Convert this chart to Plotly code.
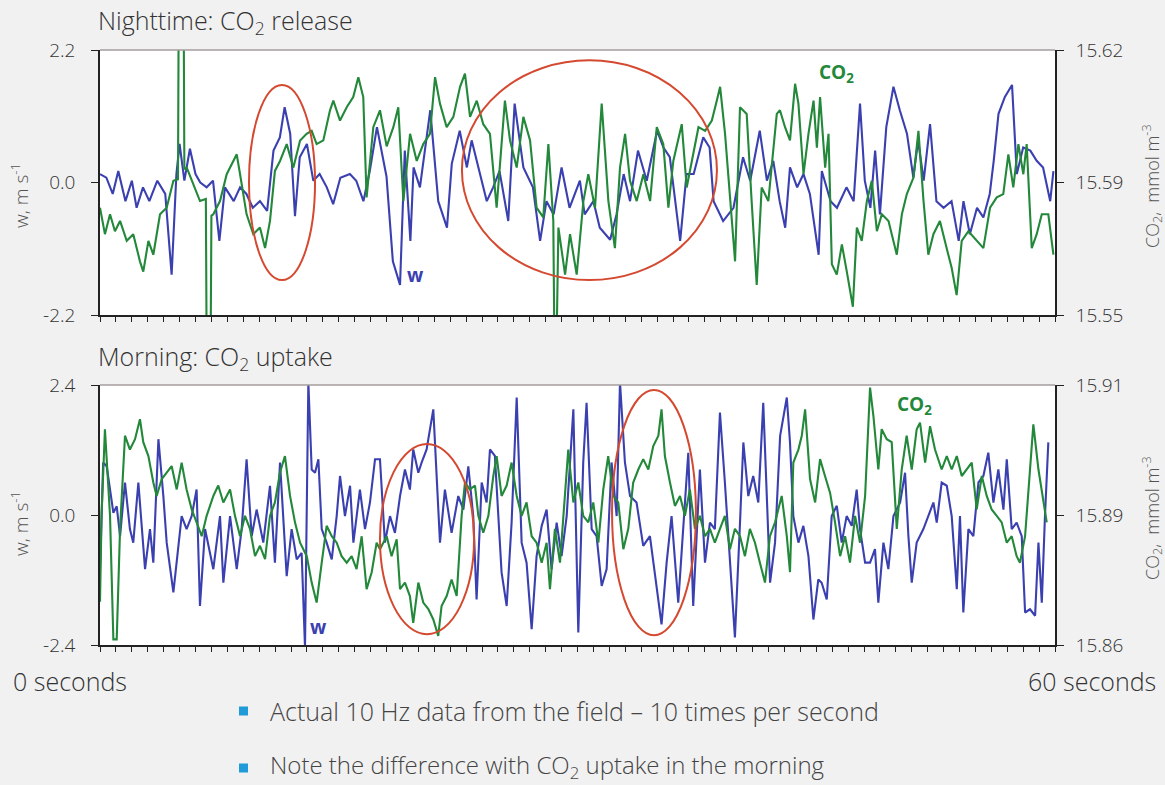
import plotly.graph_objects as go

# ---------------- data ----------------
# Nighttime: vertical wind speed w (m/s), (time s, value)
night_w = [(0.0,0.14),(0.4,0.08),(0.8,-0.19),(1.15,0.19),(1.6,-0.31),(2.0,0.03),(2.3,-0.42),(2.7,-0.08),(3.1,-0.31),(3.6,0.03),(4.1,-0.19),(4.5,-1.53),(4.8,0.14),(5.0,0.64),(5.3,0.03),(5.65,0.56),(6.0,0.14),(6.3,0.0),(6.7,-0.08),(7.1,0.03),(7.5,-0.97),(7.85,-0.08),(8.4,-0.31),(8.8,-0.08),(9.2,-0.19),(9.6,-0.42),(10.05,-0.31),(10.5,-0.47),(10.9,0.53),(11.3,0.75),(11.6,1.25),(11.95,0.81),(12.25,-0.56),(12.55,0.42),(13.0,0.64),(13.4,0.03),(13.8,0.14),(14.25,-0.08),(14.65,-0.36),(15.1,0.08),(15.7,0.14),(16.1,0.03),(16.55,-0.31),(16.95,0.19),(17.4,0.92),(18.0,0.1),(18.4,-1.31),(18.85,-1.7),(19.15,0.53),(19.5,-0.97),(19.7,0.25),(20.1,-0.08),(20.75,1.2),(21.25,-0.31),(21.8,-0.75),(22.1,0.31),(22.6,0.86),(23.05,0.25),(23.35,0.70),(23.9,0.14),(24.3,-0.31),(24.7,-0.08),(25.1,0.19),(25.65,-0.64),(26.05,1.31),(26.6,0.25),(27.2,-0.08),(27.65,-0.97),(28.05,-0.31),(28.5,-0.53),(29.0,0.25),(29.5,-0.42),(30.15,0.03),(30.45,-0.53),(31.0,-0.31),(31.4,-0.75),(32.05,-0.95),(32.45,-0.53),(32.9,0.14),(33.3,-0.31),(33.8,0.53),(34.35,0.03),(35.0,0.86),(35.4,0.58),(35.8,0.42),(36.45,-0.97),(36.85,0.14),(37.3,0.14),(37.9,0.75),(38.3,0.58),(38.55,-0.31),(39.15,-0.64),(39.8,-0.42),(40.4,0.42),(40.85,0.03),(41.45,0.86),(41.9,0.03),(42.3,0.36),(42.7,-0.31),(43.05,-0.75),(43.35,0.25),(43.8,-0.08),(44.2,0.14),(44.6,-0.19),(45.15,-1.2),(45.35,0.19),(45.9,-0.31),(46.3,-0.42),(46.9,-0.08),(47.35,-0.31),(47.75,1.31),(48.05,0.03),(48.4,-0.42),(48.7,0.53),(49.0,-0.53),(49.4,0.92),(49.85,1.59),(50.25,1.2),(50.7,0.81),(51.1,0.08),(51.4,0.70),(51.75,0.03),(52.15,0.97),(52.55,-0.31),(53.0,-0.42),(53.5,-0.31),(53.95,-0.97),(54.25,-0.31),(54.65,-0.86),(55.1,-0.42),(55.5,-0.58),(55.9,-0.19),(56.15,0.36),(56.45,1.14),(56.85,1.42),(57.3,1.62),(57.6,0.14),(58.0,0.58),(58.45,0.53),(58.85,0.36),(59.25,0.25),(59.7,-0.31),(59.9,0.19)]

# Nighttime: CO2 concentration (mmol m-3), (time s, value)
night_co2 = [(0.0,15.5824),(0.31,15.5744),(0.63,15.5804),(0.94,15.5753),(1.26,15.5784),(1.68,15.5724),(2.09,15.5744),(2.51,15.5662),(2.72,15.5631),(3.04,15.5724),(3.35,15.5682),(3.77,15.5804),(4.19,15.5824),(4.61,15.5905),(4.9,15.591),(4.95,15.65),(5.25,15.65),(5.3,15.594),(5.45,15.5945),(5.86,15.5895),(6.28,15.5844),(6.65,15.585),(6.7,15.54),(6.95,15.54),(7.0,15.580),(7.12,15.5804),(7.54,15.5844),(7.96,15.5925),(8.38,15.5965),(8.59,15.5985),(8.80,15.5925),(9.21,15.5804),(9.63,15.5744),(10.05,15.5764),(10.37,15.5702),(10.68,15.5784),(10.99,15.5935),(11.31,15.5965),(11.73,15.6016),(12.15,15.5945),(12.57,15.6027),(12.98,15.6047),(13.30,15.6056),(13.61,15.6016),(14.03,15.6027),(14.45,15.6118),(14.66,15.6147),(15.08,15.6087),(15.5,15.6127),(15.91,15.6158),(16.23,15.6218),(16.54,15.6158),(16.75,15.5855),(17.17,15.6067),(17.59,15.6118),(18.01,15.6009),(18.43,15.6067),(18.74,15.6127),(19.06,15.5844),(19.48,15.6047),(19.90,15.5965),(20.31,15.6016),(20.73,15.6047),(21.05,15.6218),(21.36,15.6138),(21.78,15.6067),(22.20,15.6098),(22.62,15.6189),(22.93,15.6229),(23.25,15.6098),(23.67,15.6147),(24.08,15.6076),(24.50,15.6047),(24.92,15.5824),(25.44,15.6147),(25.76,15.6027),(26.18,15.5945),(26.60,15.6098),(27.02,15.6027),(27.43,15.5824),(27.85,15.5795),(28.17,15.6016),(28.48,15.5784),(28.55,15.54),(28.68,15.54),(28.80,15.5764),(29.22,15.5622),(29.53,15.5744),(29.95,15.5622),(30.37,15.5844),(30.68,15.5925),(31.10,15.5824),(31.52,15.6138),(31.94,15.5844),(32.35,15.5702),(32.67,15.5945),(32.99,15.6047),(33.30,15.5905),(33.72,15.5844),(34.14,15.5925),(34.56,15.5844),(34.98,15.6067),(35.39,15.6016),(35.71,15.5824),(36.02,15.5965),(36.55,15.6076),(36.86,15.5885),(37.28,15.5985),(37.60,15.6067),(38.02,15.6056),(38.44,15.6087),(38.75,15.6147),(38.96,15.6189),(39.27,15.6047),(39.58,15.5844),(39.90,15.5662),(40.21,15.6127),(40.63,15.6107),(40.94,15.5844),(41.26,15.5591),(41.57,15.5885),(41.99,15.5844),(42.52,15.6107),(42.72,15.6118),(43.04,15.6067),(43.35,15.6027),(43.67,15.6198),(43.88,15.6138),(44.20,15.5925),(44.51,15.6047),(44.83,15.6147),(45.04,15.6005),(45.24,15.6158),(45.56,15.5945),(45.77,15.6047),(45.98,15.5653),(46.29,15.5622),(46.61,15.5713),(46.92,15.5631),(47.30,15.5525),(47.55,15.5764),(47.86,15.5724),(48.18,15.5844),(48.49,15.5905),(48.81,15.5753),(49.12,15.5804),(49.54,15.5784),(50.06,15.5682),(50.38,15.5804),(50.69,15.5865),(51.11,15.5915),(51.42,15.6056),(51.74,15.5844),(52.04,15.5682),(52.36,15.5744),(52.77,15.5784),(53.19,15.5702),(53.51,15.5642),(53.82,15.5560),(54.14,15.5724),(54.56,15.5753),(55.08,15.5724),(55.50,15.5702),(55.92,15.5824),(56.34,15.5855),(56.75,15.5865),(57.07,15.5985),(57.38,15.5885),(57.70,15.6016),(58.01,15.5925),(58.22,15.6016),(58.54,15.5702),(58.85,15.5744),(59.17,15.5804),(59.58,15.5804),(59.90,15.5682)]

# Morning: vertical wind speed w (m/s)
morning_w = [(0.0,-1.0),(0.2,0.97),(0.42,0.90),(0.84,0.04),(1.05,0.16),(1.26,-0.39),(1.57,0.60),(1.88,-0.26),(2.09,-0.51),(2.41,0.60),(2.83,-1.00),(3.14,-0.26),(3.35,-0.88),(3.67,1.40),(3.98,0.35),(4.19,-0.51),(4.61,-1.43),(4.82,-0.88),(5.13,-0.02),(5.44,-0.26),(5.76,-0.02),(6.07,0.47),(6.28,-1.68),(6.60,-0.26),(6.81,-0.57),(7.12,-1.00),(7.54,-0.02),(7.75,-1.25),(8.17,-0.02),(8.59,-1.00),(8.90,-0.26),(9.21,1.03),(9.53,-0.39),(9.84,0.10),(10.26,-0.51),(10.68,0.54),(10.99,-0.88),(11.31,0.97),(11.73,-1.13),(12.04,-0.26),(12.36,-0.82),(12.67,-0.70),(12.88,-2.45),(13.09,2.45),(13.30,0.84),(13.51,0.78),(13.72,1.03),(13.93,-0.26),(14.24,-0.51),(14.56,-0.82),(14.87,-0.02),(15.08,0.72),(15.39,-0.02),(15.71,0.54),(15.92,-0.51),(16.33,0.47),(16.65,-0.26),(16.96,0.23),(17.28,1.03),(17.59,1.03),(17.90,-0.51),(18.22,-0.02),(18.53,-0.33),(18.85,0.35),(19.16,0.84),(19.47,0.47),(19.68,1.21),(20.0,0.78),(20.21,0.97),(20.52,1.21),(20.94,1.95),(21.36,-0.51),(21.67,0.47),(22.09,-0.33),(22.51,0.35),(22.83,0.10),(23.14,0.90),(23.45,-0.02),(23.66,-1.56),(23.98,0.60),(24.29,0.23),(24.50,1.21),(24.81,1.09),(25.23,-1.06),(25.55,-1.68),(25.86,-0.14),(26.18,2.17),(26.49,-0.51),(26.80,-0.88),(27.12,-2.11),(27.43,-0.76),(27.75,-0.20),(28.06,0.10),(28.37,-1.00),(28.69,-0.14),(29.0,-0.76),(29.32,-0.02),(29.74,1.95),(30.05,-2.17),(30.36,0.97),(30.57,2.07),(30.89,-0.26),(31.20,-0.39),(31.52,-1.31),(31.83,-1.00),(32.14,0.97),(32.46,-0.02),(32.67,2.45),(32.98,0.97),(33.30,0.35),(33.71,0.23),(34.13,-0.57),(34.55,-0.39),(34.97,-1.31),(35.28,-2.02),(35.60,-0.88),(35.91,-0.02),(36.33,-1.62),(36.65,-0.14),(36.96,1.15),(37.27,-1.68),(37.69,0.84),(38.01,-0.88),(38.32,-0.14),(38.63,-0.26),(38.95,1.89),(39.26,0.60),(39.58,-0.88),(39.89,-2.26),(40.21,-0.14),(40.42,1.34),(40.73,0.35),(41.04,0.72),(41.36,0.23),(41.67,2.07),(42.10,-1.25),(42.41,-0.51),(42.73,1.46),(43.15,2.17),(43.35,1.34),(43.56,-0.02),(43.88,-0.51),(44.19,-0.20),(44.51,-0.76),(44.82,-1.93),(45.13,-1.19),(45.34,-1.25),(45.66,-1.56),(45.97,-0.02),(46.29,0.17),(46.60,-0.51),(46.91,-0.02),(47.23,-0.20),(47.54,0.47),(47.75,-0.26),(48.07,-0.88),(48.38,-0.88),(48.69,-0.63),(48.90,-1.62),(49.22,-0.51),(49.53,-1.00),(49.85,-0.02),(50.27,0.23),(50.58,0.78),(50.79,-0.39),(51.00,-1.25),(51.31,-0.51),(51.73,-0.26),(52.05,-0.02),(52.36,0.23),(52.57,-0.14),(52.88,0.60),(53.20,0.54),(53.51,-0.02),(53.83,-1.37),(54.03,-0.02),(54.24,-1.80),(54.56,-0.26),(54.87,-0.39),(55.19,0.60),(55.50,0.72),(55.81,1.15),(56.13,0.23),(56.44,0.84),(56.76,0.10),(56.97,1.03),(57.28,-0.26),(57.59,-0.14),(57.91,-0.39),(58.12,-1.80),(58.43,-1.74),(58.75,-1.86),(58.96,-0.51),(59.17,-1.62),(59.37,-0.02),(59.58,1.34)]

# Morning: CO2 concentration (mmol m-3)
morning_co2 = [(0.0,15.8700),(0.1,15.8900),(0.31,15.9098),(0.63,15.8898),(0.84,15.8613),(1.05,15.8613),(1.26,15.8868),(1.57,15.9083),(1.88,15.9051),(2.20,15.9075),(2.51,15.9121),(2.72,15.9068),(3.04,15.9036),(3.35,15.8975),(3.56,15.8944),(3.88,15.8983),(4.19,15.8998),(4.50,15.9013),(4.82,15.8959),(5.13,15.9021),(5.44,15.8959),(5.76,15.8913),(6.07,15.8883),(6.39,15.8851),(6.70,15.8898),(7.12,15.8944),(7.43,15.8968),(7.75,15.8929),(8.17,15.8959),(8.48,15.8898),(8.80,15.8851),(9.11,15.8898),(9.42,15.8868),(9.74,15.8805),(10.05,15.8829),(10.37,15.8798),(10.68,15.8898),(10.99,15.8929),(11.31,15.8998),(11.62,15.9036),(11.94,15.8944),(12.25,15.8883),(12.57,15.8836),(12.99,15.8805),(13.30,15.8744),(13.61,15.8698),(13.93,15.8790),(14.24,15.8875),(14.56,15.8851),(14.87,15.8836),(15.18,15.8805),(15.50,15.8790),(15.81,15.8805),(16.12,15.8775),(16.44,15.8851),(16.75,15.8729),(17.07,15.8768),(17.38,15.8836),(17.59,15.8821),(18.01,15.8851),(18.32,15.8805),(18.64,15.8844),(18.85,15.8729),(19.16,15.8744),(19.47,15.8713),(19.68,15.8651),(20.0,15.8744),(20.31,15.8698),(20.63,15.8683),(20.94,15.8659),(21.25,15.8621),(21.46,15.8690),(21.78,15.8713),(22.09,15.8751),(22.41,15.8713),(22.72,15.8898),(22.93,15.8975),(23.24,15.8959),(23.56,15.8968),(23.77,15.8898),(24.08,15.8859),(24.40,15.8898),(24.71,15.8990),(24.92,15.9036),(25.23,15.8944),(25.55,15.8968),(25.86,15.9021),(26.18,15.8944),(26.49,15.8898),(26.80,15.8929),(27.12,15.8851),(27.43,15.8836),(27.75,15.8790),(28.06,15.8836),(28.27,15.8729),(28.58,15.8868),(28.90,15.8790),(29.21,15.8944),(29.42,15.9051),(29.74,15.8929),(30.05,15.8975),(30.36,15.8898),(30.68,15.8883),(30.99,15.8929),(31.31,15.8836),(31.62,15.8959),(31.93,15.9036),(32.25,15.8944),(32.56,15.8929),(32.88,15.8821),(33.19,15.8868),(33.50,15.8975),(33.82,15.9005),(34.13,15.9029),(34.45,15.9005),(34.76,15.9059),(35.08,15.9083),(35.28,15.9144),(35.49,15.9036),(35.81,15.8975),(36.12,15.8921),(36.44,15.8944),(36.75,15.8898),(37.06,15.8959),(37.38,15.8868),(37.69,15.8898),(38.01,15.8851),(38.32,15.8868),(38.63,15.8836),(38.95,15.8868),(39.26,15.8898),(39.58,15.8821),(39.89,15.8868),(40.21,15.8851),(40.52,15.8805),(40.83,15.8868),(41.15,15.8836),(41.46,15.8790),(41.78,15.8744),(42.09,15.8851),(42.41,15.8883),(42.83,15.8944),(43.15,15.8851),(43.35,15.8768),(43.56,15.9021),(43.88,15.9051),(44.09,15.9083),(44.30,15.9144),(44.61,15.8983),(44.93,15.8929),(45.24,15.9029),(45.55,15.8990),(45.87,15.8951),(46.18,15.8883),(46.50,15.8805),(46.81,15.8851),(47.12,15.8790),(47.44,15.8898),(47.75,15.8836),(48.07,15.8944),(48.38,15.9194),(48.59,15.9129),(48.90,15.9005),(49.11,15.9098),(49.43,15.9075),(49.74,15.9068),(50.06,15.8868),(50.37,15.9005),(50.68,15.9083),(51.00,15.9005),(51.31,15.9098),(51.52,15.9113),(51.84,15.9021),(52.15,15.9105),(52.46,15.9051),(52.88,15.9005),(53.20,15.9036),(53.51,15.9005),(53.83,15.9036),(54.14,15.8990),(54.45,15.9005),(54.77,15.9021),(55.08,15.8913),(55.40,15.8990),(55.71,15.8944),(56.02,15.8913),(56.34,15.8898),(56.65,15.8883),(56.97,15.8836),(57.28,15.8851),(57.59,15.8805),(57.80,15.8790),(58.12,15.8851),(58.43,15.9005),(58.64,15.9109),(58.96,15.9005),(59.27,15.8929),(59.48,15.8883)]

# axis tick labels
night_w_ticks = [-2.2, 0.0, 2.2]
night_co2_tickvals = [15.55, 15.59, 15.63]
night_co2_ticktext = ["15.55", "15.59", "15.62"]
morning_w_ticks = [-2.4, 0.0, 2.4]
morning_co2_tickvals = [15.86, 15.89, 15.92]
morning_co2_ticktext = ["15.86", "15.89", "15.91"]

# highlighted regions (time range s, w range)
night_circles = [((9.36, 13.51), (-1.62, 1.62)), ((22.74, 38.76), (-1.62, 2.03))]
morning_circles = [((17.59, 23.50), (-2.20, 1.31)), ((32.17, 37.44), (-2.22, 2.31))]

bullets = ["Actual 10 Hz data from the field \u2013 10 times per second",
           "Note the difference with CO<sub>2</sub> uptake in the morning"]

# ---------------- styling ----------------
W, H = 1165, 785
BLUE = "#3b40b0"
GREEN = "#23883a"
RED = "#d4492f"
FONT = "Open Sans"
TXT = "#333333"

def px(x):
    return x / W

def py(y):
    return 1 - y / H

fig = go.Figure()

def add(series, xa, ya, color):
    t, v = zip(*series)
    fig.add_trace(go.Scatter(x=list(t), y=list(v), mode="lines", xaxis=xa, yaxis=ya,
                             line=dict(color=color, width=2.1), showlegend=False,
                             hoverinfo="skip"))

add(night_w, "x", "y", BLUE)
add(night_co2, "x", "y2", GREEN)
add(morning_w, "x2", "y3", BLUE)
add(morning_co2, "x2", "y4", GREEN)

xdom = [px(100), px(1055)]
top_dom = [py(315), py(50)]
bot_dom = [py(645), py(385)]

xcommon = dict(domain=xdom, range=[0, 60], dtick=1, tick0=0, ticks="outside", ticklen=5,
               tickwidth=1, tickcolor="#222", showticklabels=False, showgrid=False,
               zeroline=False, showline=True, linecolor="#222", linewidth=1.5, automargin=False)
ycommon = dict(showgrid=False, zeroline=False, showline=True, linecolor="#222", linewidth=1.5,
               ticks="outside", ticklen=7, tickcolor="#222", automargin=False,
               tickfont=dict(family=FONT, size=19, color=TXT, weight=300))

fig.update_layout(
    width=W, height=H, margin=dict(l=0, r=0, t=0, b=0, pad=0, autoexpand=False),
    paper_bgcolor="#f1f1f1", plot_bgcolor="white",
    xaxis=dict(**xcommon, anchor="y"),
    xaxis2=dict(**xcommon, anchor="y3"),
    yaxis=dict(**ycommon, domain=top_dom, range=[-2.2, 2.2], tickvals=night_w_ticks,
               ticktext=["-2.2", "0.0", "2.2"], anchor="x", ticklabelstandoff=12),
    yaxis2=dict(**ycommon, domain=top_dom, range=[15.55, 15.63], tickvals=night_co2_tickvals,
                ticktext=night_co2_ticktext, overlaying="y", side="right", anchor="x",
                ticklabelstandoff=8),
    yaxis3=dict(**ycommon, domain=bot_dom, range=[-2.4, 2.4], tickvals=morning_w_ticks,
                ticktext=["-2.4", "0.0", "2.4"], anchor="x2", ticklabelstandoff=12),
    yaxis4=dict(**ycommon, domain=bot_dom, range=[15.86, 15.92], tickvals=morning_co2_tickvals,
                ticktext=morning_co2_ticktext, overlaying="y3", side="right", anchor="x2",
                ticklabelstandoff=8),
)

shapes = []
# gray top borders of both plots
for yv in (py(50), py(385)):
    shapes.append(dict(type="line", xref="paper", yref="paper", x0=xdom[0], x1=xdom[1],
                       y0=yv, y1=yv, line=dict(color="#a59d9d", width=1.5)))
# red ellipses
for (x0, x1), (y0, y1) in night_circles:
    shapes.append(dict(type="circle", xref="x", yref="y", x0=x0, x1=x1, y0=y0, y1=y1,
                       line=dict(color=RED, width=2)))
for (x0, x1), (y0, y1) in morning_circles:
    shapes.append(dict(type="circle", xref="x2", yref="y3", x0=x0, x1=x1, y0=y0, y1=y1,
                       line=dict(color=RED, width=2)))
# bullet squares
for yb in (711, 768):
    shapes.append(dict(type="rect", xref="paper", yref="paper", x0=px(239), x1=px(248),
                       y0=py(yb + 4.5), y1=py(yb - 4.5), fillcolor="#1f9bd7", line=dict(width=0)))
fig.update_layout(shapes=shapes)

ann = []
def text(x, y, s, size, color=TXT, xanchor="center", angle=0, weight=300):
    ann.append(dict(x=px(x), y=py(y), xref="paper", yref="paper", text=s, showarrow=False,
                    xanchor=xanchor, yanchor="middle", textangle=angle,
                    font=dict(family=FONT, size=size, color=color, weight=weight)))

text(96, 22, "Nighttime: CO<sub>2</sub> release", 25, xanchor="left")
text(96, 357, "Morning: CO<sub>2</sub> uptake", 25, xanchor="left")
text(20, 196, "w, m s<sup>-1</sup>", 19, color="#555", angle=-90)
text(20, 524, "w, m s<sup>-1</sup>", 19, color="#555", angle=-90)
text(1152, 186, "CO<sub>2</sub>,  mmol m<sup>-3</sup>", 18, color="#555", angle=-90)
text(1152, 518, "CO<sub>2</sub>,  mmol m<sup>-3</sup>", 18, color="#555", angle=-90)
text(70, 681, "0 seconds", 25)
text(1092, 681, "60 seconds", 25)
text(268, 711, bullets[0], 25, color="#444", xanchor="left")
text(268, 766, bullets[1], 24, color="#444", xanchor="left")
text(415, 275, "<b>w</b>", 19, color=BLUE, weight=700)
text(318, 627, "<b>w</b>", 19, color=BLUE, weight=700)
text(836, 73, "<b>CO<sub>2</sub></b>", 19, color=GREEN, weight=700)
text(914, 405, "<b>CO<sub>2</sub></b>", 19, color=GREEN, weight=700)
fig.update_layout(annotations=ann)

fig.write_html("out.html", config={"displayModeBar": False},
               post_script="document.body.style.margin='0';document.body.style.overflow='hidden';")
